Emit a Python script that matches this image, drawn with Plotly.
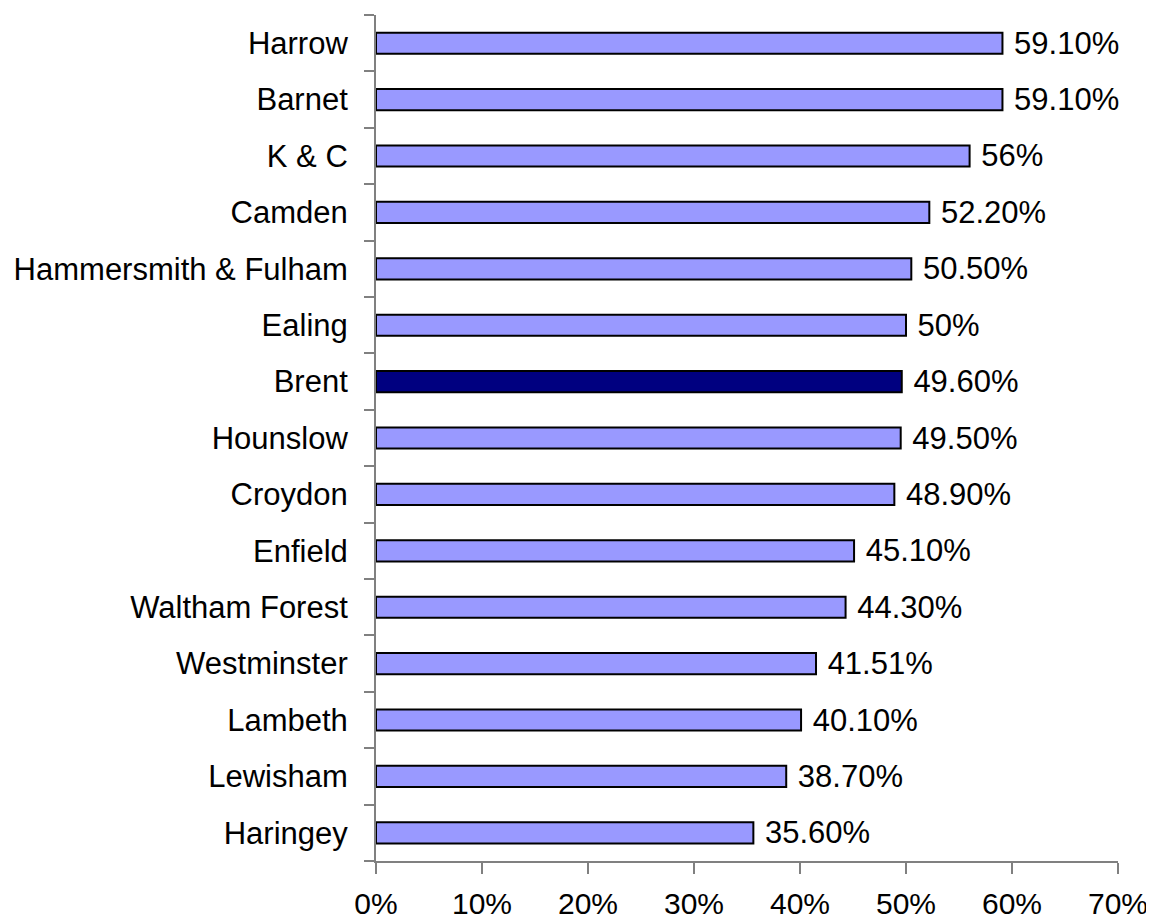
import plotly.graph_objects as go

boroughs = ["Harrow", "Barnet", "K & C", "Camden", "Hammersmith & Fulham", "Ealing",
            "Brent", "Hounslow", "Croydon", "Enfield", "Waltham Forest", "Westminster",
            "Lambeth", "Lewisham", "Haringey"]
values = [0.591, 0.591, 0.56, 0.522, 0.505, 0.50, 0.496, 0.495, 0.489, 0.451,
          0.443, 0.4151, 0.401, 0.387, 0.356]
value_labels = ["59.10%", "59.10%", "56%", "52.20%", "50.50%", "50%", "49.60%", "49.50%",
                "48.90%", "45.10%", "44.30%", "41.51%", "40.10%", "38.70%", "35.60%"]
highlight = "Brent"

x_ticks = [0, 0.1, 0.2, 0.3, 0.4, 0.5, 0.6, 0.7]
x_tick_labels = ["0%", "10%", "20%", "30%", "40%", "50%", "60%", "70%"]

colors = ["#000080" if b == highlight else "#9999FF" for b in boroughs]

font_family = "Liberation Sans, Arial, sans-serif"

fig = go.Figure(go.Bar(
    x=values,
    y=boroughs,
    orientation="h",
    marker=dict(color=colors, line=dict(color="#000000", width=2)),
    text=[" " + t for t in value_labels],
    textposition="outside",
    constraintext="none",
    textfont=dict(family=font_family, size=31, color="#000000"),
    cliponaxis=False,
    hoverinfo="skip",
))

# page body has an 8px default margin, so the figure is sized to fit the window
fig.update_layout(
    width=1146,
    height=914,
    margin=dict(l=368, r=36, t=7, b=61),
    paper_bgcolor="#FFFFFF",
    plot_bgcolor="#FFFFFF",
    bargap=0.625,
    showlegend=False,
    font=dict(family=font_family, size=30, color="#000000"),
    xaxis=dict(
        range=[0, 0.7],
        tickvals=x_ticks,
        ticktext=x_tick_labels,
        automargin=False,
        showgrid=False,
        zeroline=False,
        showline=True,
        linecolor="#808080",
        linewidth=2,
        ticks="outside",
        ticklen=11,
        tickwidth=1.5,
        tickcolor="#808080",
        ticklabelstandoff=4,
        tickfont=dict(family=font_family, size=30, color="#000000"),
    ),
    yaxis=dict(
        categoryorder="array",
        categoryarray=boroughs[::-1],
        autorange=False,
        range=[-0.5, len(boroughs) - 0.5],
        automargin=False,
        showgrid=False,
        zeroline=False,
        showline=True,
        linecolor="#808080",
        linewidth=2,
        ticks="outside",
        tickson="boundaries",
        ticklen=10,
        tickwidth=2,
        tickcolor="#808080",
        ticklabelstandoff=20,
        tickfont=dict(family=font_family, size=31, color="#000000"),
    ),
)

fig.write_html("out.html")
